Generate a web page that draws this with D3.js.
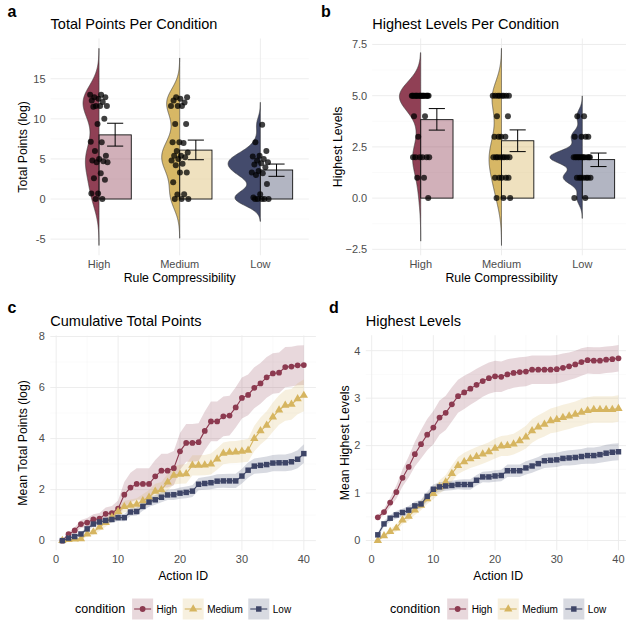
<!DOCTYPE html>
<html>
<head>
<meta charset="utf-8">
<script src="https://cdn.jsdelivr.net/npm/d3@7"></script>
<style>
body { margin: 0; background: #fff; }
svg { font-family: "Liberation Sans", Arial, sans-serif; }
</style>
</head>
<body>
<div id="chart"></div>
<script>
var width = 626, height = 622;

var conditions = ["High", "Medium", "Low"];
var colors = ["#8c3a50", "#d6b560", "#3e4567"];
var shapes = [d3.symbolCircle, d3.symbolTriangle, d3.symbolSquare];

// panel a: total points (log) per participant
var pointsHigh = [13.0, 13.0, 12.7, 12.7, 12.5, 12.3, 12.1, 11.6, 11.6, 11.6, 11.5, 10.0, 9.35, 7.15, 7.07, 6.0, 5.4, 5.0, 4.8, 4.7, 4.6, 4.6, 3.2, 2.6, 2.4, 0.7, 0.7, 0, 0];
var pointsMedium = [12.7, 12.7, 12.5, 12.3, 12.05, 11.6, 11.6, 11.6, 9.35, 9.35, 7.07, 7.07, 7.0, 6.0, 5.8, 5.4, 5.4, 5.2, 5.0, 4.8, 4.4, 4.2, 3.3, 3.3, 2.1, 0.6, 0.55, 0, 0, 0];
var pointsLow = [9.27, 7.07, 6.0, 5.4, 5.3, 5.0, 4.8, 4.6, 4.45, 4.3, 3.95, 3.5, 3.3, 3.2, 3.0, 1.87, 0.6, 0.2, 0, 0, 0, 0, 0];
var pointsMean = [8.0, 6.1, 3.62];
var pointsLo = [6.6, 4.9, 2.83];
var pointsHi = [9.45, 7.35, 4.36];
var pointsBw = [1.93, 1.63, 0.93];

// panel b: highest level per participant
var levelsHigh = [5,5,5,5,5,5,5,5,5,5,5,5,5,5,5,5,5,5, 4,4, 3, 2,2,2,2,2,2, 1,1, 0];
var levelsMedium = [5,5,5,5,5,5,5,5, 4,4, 3,3,3,3, 2,2,2,2,2,2,2,2, 1,1,1,1,1, 0,0,0];
var levelsLow = [4,4, 3,3,3,3, 2,2,2,2,2,2,2,2,2,2,2,2, 1,1,1,1,1,1,1, 0,0];
var levelsMean = [3.83, 2.8, 1.88];
var levelsLo = [3.32, 2.27, 1.54];
var levelsHi = [4.37, 3.33, 2.2];
var levelsBw = [0.7, 0.77, 0.33];

// panels c, d: per action
var actionId = d3.range(1, 41);

var cumHigh = [0, 0.25, 0.4, 0.65, 0.71, 0.83, 0.86, 1.05, 1.08, 1.25, 1.8, 2.08, 2.22, 2.22, 2.22, 2.52, 2.74, 2.74, 2.84, 3.5, 3.83, 3.83, 3.86, 4.3, 4.67, 4.67, 4.87, 4.9, 5.22, 5.59, 5.71, 5.99, 6.16, 6.4, 6.55, 6.58, 6.8, 6.82, 6.87, 6.88];
var cumMedium = [0, 0.04, 0.06, 0.07, 0.26, 0.34, 0.53, 0.71, 0.91, 1.14, 1.33, 1.38, 1.42, 1.56, 1.7, 1.93, 1.99, 2.29, 2.56, 2.6, 2.62, 2.95, 2.95, 2.96, 3.0, 3.2, 3.42, 3.46, 3.47, 3.5, 3.54, 4.0, 4.3, 4.52, 4.84, 5.12, 5.3, 5.34, 5.56, 5.69];
var cumLow = [0, 0.1, 0.16, 0.26, 0.46, 0.65, 0.73, 0.79, 0.83, 0.9, 0.9, 1.12, 1.14, 1.34, 1.51, 1.6, 1.7, 1.79, 1.8, 1.86, 1.89, 1.94, 2.21, 2.24, 2.27, 2.33, 2.34, 2.34, 2.34, 2.53, 2.76, 2.92, 2.95, 2.98, 3.04, 3.05, 3.05, 3.09, 3.19, 3.41];
var cumHighSe = [0, 0.08, 0.12, 0.16, 0.18, 0.2, 0.22, 0.25, 0.28, 0.32, 0.5, 0.58, 0.62, 0.62, 0.62, 0.64, 0.66, 0.66, 0.67, 0.72, 0.74, 0.74, 0.74, 0.76, 0.78, 0.78, 0.78, 0.78, 0.79, 0.8, 0.8, 0.8, 0.8, 0.8, 0.79, 0.79, 0.79, 0.78, 0.78, 0.78];
var cumMediumSe = [0, 0.03, 0.04, 0.05, 0.1, 0.12, 0.15, 0.17, 0.19, 0.2, 0.22, 0.23, 0.24, 0.26, 0.28, 0.3, 0.31, 0.33, 0.36, 0.37, 0.38, 0.4, 0.4, 0.4, 0.41, 0.42, 0.43, 0.43, 0.43, 0.44, 0.45, 0.5, 0.53, 0.55, 0.57, 0.58, 0.6, 0.6, 0.61, 0.62];
var cumLowSe = [0, 0.03, 0.05, 0.07, 0.09, 0.1, 0.11, 0.12, 0.13, 0.13, 0.14, 0.15, 0.16, 0.17, 0.18, 0.19, 0.2, 0.2, 0.21, 0.22, 0.23, 0.23, 0.24, 0.25, 0.26, 0.27, 0.27, 0.28, 0.28, 0.29, 0.3, 0.3, 0.31, 0.32, 0.32, 0.33, 0.33, 0.34, 0.35, 0.37];

var lvlHigh = [0.49, 0.6, 0.8, 1.02, 1.32, 1.55, 1.82, 2.03, 2.23, 2.38, 2.59, 2.69, 2.87, 3.04, 3.12, 3.2, 3.28, 3.36, 3.42, 3.46, 3.45, 3.5, 3.53, 3.55, 3.56, 3.6, 3.6, 3.6, 3.6, 3.61, 3.64, 3.67, 3.71, 3.76, 3.8, 3.79, 3.79, 3.81, 3.82, 3.84];
var lvlMedium = [0, 0.1, 0.19, 0.26, 0.43, 0.51, 0.64, 0.74, 0.88, 0.99, 1.13, 1.23, 1.41, 1.58, 1.66, 1.72, 1.77, 1.82, 1.87, 1.94, 1.99, 2.0, 2.03, 2.1, 2.18, 2.31, 2.39, 2.45, 2.52, 2.55, 2.59, 2.62, 2.66, 2.7, 2.74, 2.76, 2.76, 2.76, 2.76, 2.78];
var lvlLow = [0.12, 0.35, 0.47, 0.54, 0.59, 0.64, 0.73, 0.77, 0.93, 1.08, 1.13, 1.15, 1.16, 1.18, 1.18, 1.18, 1.27, 1.34, 1.34, 1.36, 1.37, 1.47, 1.47, 1.47, 1.53, 1.57, 1.62, 1.68, 1.69, 1.7, 1.73, 1.74, 1.75, 1.77, 1.79, 1.79, 1.81, 1.84, 1.86, 1.87];
var lvlHighSe = [0.05, 0.07, 0.1, 0.14, 0.18, 0.22, 0.26, 0.3, 0.33, 0.35, 0.36, 0.36, 0.36, 0.35, 0.35, 0.34, 0.34, 0.33, 0.33, 0.33, 0.32, 0.32, 0.31, 0.31, 0.31, 0.3, 0.3, 0.3, 0.3, 0.3, 0.3, 0.29, 0.29, 0.29, 0.28, 0.28, 0.28, 0.28, 0.28, 0.28];
var lvlMediumSe = [0, 0.04, 0.06, 0.07, 0.08, 0.09, 0.1, 0.1, 0.11, 0.12, 0.14, 0.15, 0.17, 0.18, 0.19, 0.19, 0.2, 0.2, 0.2, 0.21, 0.21, 0.22, 0.22, 0.23, 0.24, 0.25, 0.25, 0.26, 0.26, 0.27, 0.27, 0.27, 0.27, 0.28, 0.28, 0.28, 0.28, 0.28, 0.28, 0.28];
var lvlLowSe = [0.05, 0.06, 0.07, 0.08, 0.08, 0.09, 0.09, 0.09, 0.1, 0.1, 0.1, 0.1, 0.1, 0.1, 0.11, 0.11, 0.11, 0.11, 0.12, 0.12, 0.12, 0.13, 0.13, 0.13, 0.14, 0.14, 0.14, 0.15, 0.15, 0.15, 0.15, 0.16, 0.16, 0.16, 0.17, 0.17, 0.17, 0.18, 0.18, 0.18];

var svg = d3.select("#chart").append("svg")
    .attr("width", width)
    .attr("height", height);

var gridMajor = "#ebebeb", gridMinor = "#f5f5f5", tickCol = "#4d4d4d";

function hgrid(g, y, vals, x0, x1, col, w) {
  g.selectAll(null).data(vals).enter().append("line")
    .attr("x1", x0).attr("x2", x1)
    .attr("y1", function(d) { return y(d); }).attr("y2", function(d) { return y(d); })
    .attr("stroke", col).attr("stroke-width", w);
}
function vgrid(g, x, vals, y0, y1, col, w) {
  g.selectAll(null).data(vals).enter().append("line")
    .attr("y1", y0).attr("y2", y1)
    .attr("x1", function(d) { return x(d); }).attr("x2", function(d) { return x(d); })
    .attr("stroke", col).attr("stroke-width", w);
}

function labels(g, c) {
  g.append("text").attr("x", c.letterX).attr("y", c.letterY).text(c.letter)
    .style("font-weight", "bold").style("font-size", "16px");
  g.append("text").attr("x", c.left).attr("y", c.titleY).text(c.title)
    .style("font-size", "14.5px");
  g.append("text").attr("x", (c.left + c.right) / 2).attr("y", c.xlabY).text(c.xlab)
    .attr("text-anchor", "middle").style("font-size", "12.3px");
  g.append("text")
    .attr("transform", "translate(" + c.ylabX + "," + (c.top + c.bottom) / 2 + ") rotate(-90)")
    .attr("text-anchor", "middle").attr("dy", "0.35em").text(c.ylab)
    .style("font-size", "12.3px");
}

function ytickLabels(g, y, ticks, fmt, x) {
  g.selectAll(null).data(ticks).enter().append("text")
    .attr("x", x).attr("y", function(d) { return y(d); })
    .attr("dy", "0.35em").attr("text-anchor", "end")
    .attr("fill", tickCol).style("font-size", "11px")
    .text(fmt);
}

//raincloud: half violin, bar of means with error bars, jittered points
function raincloud(c) {
  var g = svg.append("g");
  var lo = d3.min(c.groups, function(v, i) { return d3.min(v) - 3 * c.bw[i]; });
  var hi = d3.max(c.groups, function(v, i) { return d3.max(v) + 3 * c.bw[i]; });
  var pad = (hi - lo) * 0.05;
  var y = d3.scaleLinear().domain([lo - pad, hi + pad]).range([c.bottom, c.top]);
  var x = d3.scalePoint().domain(conditions).range([c.left, c.right]).padding(0.6);
  var step = x.step();

  hgrid(g, y, c.minor, c.left, c.right, gridMinor, 0.5);
  hgrid(g, y, c.ticks, c.left, c.right, gridMajor, 0.9);
  vgrid(g, x, conditions, c.top, c.bottom, gridMajor, 0.9);

  var dens = c.groups.map(function(v, i) {
    var bw = c.bw[i], a = d3.min(v) - 3 * bw, b = d3.max(v) + 3 * bw;
    return d3.range(512).map(function(j) {
      var t = a + (b - a) * j / 511;
      var s = d3.sum(v, function(p) { return Math.exp(-0.5 * Math.pow((t - p) / bw, 2)); });
      return [t, s / (v.length * bw * Math.sqrt(2 * Math.PI))];
    });
  });
  var dmax = d3.max(dens, function(s) { return d3.max(s, function(d) { return d[1]; }); });
  var w = d3.scaleLinear().domain([0, dmax]).range([0, 0.4 * step]);

  conditions.forEach(function(cond, i) {
    var cx = x(cond);
    var area = d3.area()
      .y(function(d) { return y(d[0]); })
      .x0(function(d) { return cx - w(d[1]); })
      .x1(cx);
    g.append("path").datum(dens[i]).attr("d", area)
      .attr("fill", colors[i]).attr("fill-opacity", 0.97)
      .attr("stroke", "#333").attr("stroke-width", 0.6);

    g.append("rect")
      .attr("x", cx).attr("width", 0.4 * step)
      .attr("y", y(c.means[i])).attr("height", y(0) - y(c.means[i]))
      .attr("fill", colors[i]).attr("fill-opacity", 0.4)
      .attr("stroke", "#111").attr("stroke-width", 0.9);

    g.selectAll(null).data(c.groups[i]).enter().append("circle")
      .attr("cx", function(d, k) { return cx + (((k * 0.618034 + i * 0.3) % 1) - 0.5) * 0.22 * step; })
      .attr("cy", function(d) { return y(d); })
      .attr("r", 3).attr("fill", "#000").attr("fill-opacity", 0.75);

    var ex = cx + 0.2 * step, cap = 0.1 * step;
    var eb = g.append("g").attr("stroke", "#000").attr("stroke-width", 1);
    eb.append("line").attr("x1", ex).attr("x2", ex).attr("y1", y(c.lo[i])).attr("y2", y(c.hi[i]));
    eb.append("line").attr("x1", ex - cap).attr("x2", ex + cap).attr("y1", y(c.lo[i])).attr("y2", y(c.lo[i]));
    eb.append("line").attr("x1", ex - cap).attr("x2", ex + cap).attr("y1", y(c.hi[i])).attr("y2", y(c.hi[i]));
  });

  ytickLabels(g, y, c.ticks, c.fmt, c.left - 5);
  g.selectAll(null).data(conditions).enter().append("text")
    .attr("x", function(d) { return x(d); }).attr("y", c.bottom + 12.7)
    .attr("text-anchor", "middle").attr("fill", tickCol).style("font-size", "11px")
    .text(function(d) { return d; });
  labels(g, c);
}

//line panel with ribbons and legend
function linePanel(c) {
  var g = svg.append("g");
  var ext = d3.extent(actionId);
  var xp = (ext[1] - ext[0]) * 0.05;
  var x = d3.scaleLinear().domain([ext[0] - xp, ext[1] + xp]).range([c.left, c.right]);
  var lo = d3.min(c.series, function(s, i) { return d3.min(s, function(v, k) { return v - c.se[i][k]; }); });
  var hi = d3.max(c.series, function(s, i) { return d3.max(s, function(v, k) { return v + c.se[i][k]; }); });
  var yp = (hi - lo) * 0.05;
  var y = d3.scaleLinear().domain([lo - yp, hi + yp]).range([c.bottom, c.top]);

  hgrid(g, y, c.minor, c.left, c.right, gridMinor, 0.5);
  vgrid(g, x, [5, 15, 25, 35], c.top, c.bottom, gridMinor, 0.5);
  hgrid(g, y, c.ticks, c.left, c.right, gridMajor, 0.9);
  vgrid(g, x, [0, 10, 20, 30, 40], c.top, c.bottom, gridMajor, 0.9);

  c.series.forEach(function(s, i) {
    var area = d3.area()
      .x(function(d, k) { return x(actionId[k]); })
      .y0(function(d, k) { return y(d - c.se[i][k]); })
      .y1(function(d, k) { return y(d + c.se[i][k]); });
    g.append("path").datum(s).attr("d", area)
      .attr("fill", colors[i]).attr("fill-opacity", 0.2);
  });
  c.series.forEach(function(s, i) {
    var line = d3.line()
      .x(function(d, k) { return x(actionId[k]); })
      .y(function(d) { return y(d); });
    g.append("path").datum(s).attr("d", line)
      .attr("fill", "none").attr("stroke", colors[i]).attr("stroke-width", 1.1);
    var sym = d3.symbol().type(shapes[i]).size([26, 30, 30][i]);
    g.selectAll(null).data(s).enter().append("path")
      .attr("d", sym)
      .attr("transform", function(d, k) { return "translate(" + x(actionId[k]) + "," + y(d) + ")"; })
      .attr("fill", colors[i]);
  });

  ytickLabels(g, y, c.ticks, function(d) { return d; }, c.left - 5.5);
  g.selectAll(null).data([0, 10, 20, 30, 40]).enter().append("text")
    .attr("x", function(d) { return x(d); }).attr("y", c.bottom + 12.9)
    .attr("text-anchor", "middle").attr("fill", tickCol).style("font-size", "11px")
    .text(function(d) { return d; });
  labels(g, c);

  //legend
  var lg = g.append("g");
  var ly = 609, key = 21;
  var title = lg.append("text").attr("y", ly).attr("dy", "0.35em").text("condition").style("font-size", "12.5px");
  var pos = title.node().getComputedTextLength() + 7;
  conditions.forEach(function(cond, i) {
    var kg = lg.append("g").attr("transform", "translate(" + pos + "," + (ly - key / 2) + ")");
    kg.append("rect").attr("width", key).attr("height", key)
      .attr("fill", colors[i]).attr("fill-opacity", 0.2);
    kg.append("line").attr("x1", 2).attr("x2", key - 2).attr("y1", key / 2).attr("y2", key / 2)
      .attr("stroke", colors[i]).attr("stroke-width", 1.1);
    kg.append("path").attr("d", d3.symbol().type(shapes[i]).size([26, 30, 30][i]))
      .attr("transform", "translate(" + key / 2 + "," + key / 2 + ")").attr("fill", colors[i]);
    var t = lg.append("text").attr("x", pos + key + 3.5).attr("y", ly).attr("dy", "0.35em")
      .text(cond).style("font-size", "10px");
    pos += key + 3.5 + t.node().getComputedTextLength() + 5.5;
  });
  var total = pos - 5.5;
  lg.attr("transform", "translate(" + ((c.left + c.right) / 2 - total / 2) + ",0)");
}

raincloud({
  groups: [pointsHigh, pointsMedium, pointsLow], bw: pointsBw,
  means: pointsMean, lo: pointsLo, hi: pointsHi,
  left: 50.6, right: 308.8, top: 38.5, bottom: 255.3,
  ticks: [-5, 0, 5, 10, 15], minor: [-2.5, 2.5, 7.5, 12.5, 17.5],
  fmt: function(d) { return d; },
  letter: "a", letterX: 7.5, letterY: 16.7,
  title: "Total Points Per Condition", titleY: 29.2,
  xlab: "Rule Compressibility", xlabY: 282,
  ylab: "Total Points (log)", ylabX: 23
});

raincloud({
  groups: [levelsHigh, levelsMedium, levelsLow], bw: levelsBw,
  means: levelsMean, lo: levelsLo, hi: levelsHi,
  left: 372.2, right: 630.8, top: 38.5, bottom: 255.3,
  ticks: [-2.5, 0, 2.5, 5, 7.5], minor: [-1.25, 1.25, 3.75, 6.25],
  fmt: d3.format(".1f"),
  letter: "b", letterX: 321, letterY: 16.7,
  title: "Highest Levels Per Condition", titleY: 29.2,
  xlab: "Rule Compressibility", xlabY: 282,
  ylab: "Highest Levels", ylabX: 337.7
});

linePanel({
  series: [cumHigh, cumMedium, cumLow], se: [cumHighSe, cumMediumSe, cumLowSe],
  left: 50.3, right: 315.9, top: 335.4, bottom: 550.4,
  ticks: [0, 2, 4, 6, 8], minor: [1, 3, 5, 7],
  letter: "c", letterX: 7.5, letterY: 312.7,
  title: "Cumulative Total Points", titleY: 326,
  xlab: "Action ID", xlabY: 580,
  ylab: "Mean Total Points (log)", ylabX: 22.8
});

linePanel({
  series: [lvlHigh, lvlMedium, lvlLow], se: [lvlHighSe, lvlMediumSe, lvlLowSe],
  left: 365.8, right: 630.5, top: 335.2, bottom: 550.3,
  ticks: [0, 1, 2, 3, 4], minor: [0.5, 1.5, 2.5, 3.5],
  letter: "d", letterX: 329, letterY: 312.7,
  title: "Highest Levels", titleY: 326,
  xlab: "Action ID", xlabY: 580,
  ylab: "Mean Highest Levels", ylabX: 344.7
});
</script>
</body>
</html>
